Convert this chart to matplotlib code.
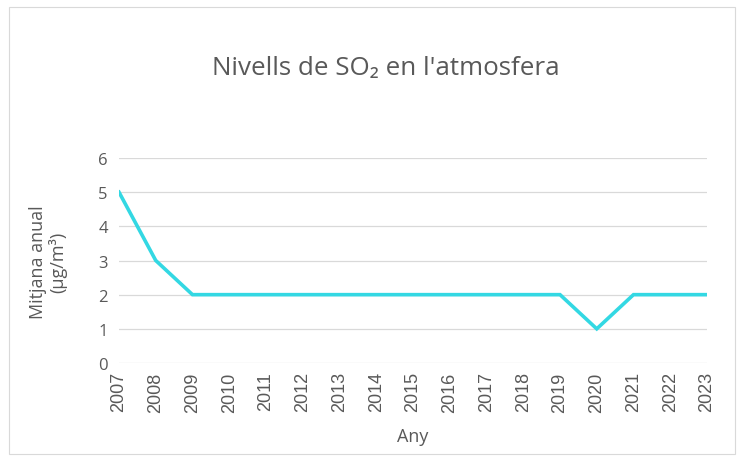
import matplotlib
matplotlib.use("Agg")
import matplotlib.pyplot as plt
from matplotlib.patches import Rectangle

years = list(range(2007, 2024))
so2 = [5, 3, 2, 2, 2, 2, 2, 2, 2, 2, 2, 2, 2, 1, 2, 2, 2]

grey = "#595959"
fig = plt.figure(figsize=(7.44, 4.60), dpi=100)
ax = fig.add_axes([119 / 744, 1 - 364 / 460, (707 - 119) / 744, (364 - 159) / 460])

ax.plot(years, so2, color="#33D8E3", lw=2.6, solid_joinstyle="miter", zorder=3)

ax.set_xlim(2007, 2023)
ax.set_ylim(0, 6)
ax.set_xticks(years)
ax.set_xticklabels([str(y) for y in years], rotation=90, fontsize=13,
                   family="Liberation Sans", color=grey)
ax.set_yticks(range(0, 7))
ax.set_yticklabels([str(v) for v in range(0, 7)], fontsize=12, family="Open Sans", color=grey)
ax.tick_params(length=0, pad=8)
ax.tick_params(axis="x", pad=6)
ax.grid(axis="y", color="#D9D9D9", lw=0.9)
ax.set_axisbelow(True)
for s in ax.spines.values():
    s.set_visible(False)

fig.text(386 / 744, 1 - 68 / 460, "Nivells de SO\u2082 en l'atmosfera", ha="center", va="center",
         fontsize=18.7, family="Open Sans", color=grey)
fig.text(48 / 744, 1 - 262 / 460, "Mitjana anual\n(\u00b5g/m\u00b3)", ha="center", va="center",
         rotation=90, fontsize=13, family="Open Sans", color=grey, linespacing=1.1)
fig.text(413 / 744, 1 - 437 / 460, "Any", ha="center", va="center",
         fontsize=13, family="Open Sans", color=grey)

fig.patches.append(Rectangle((9 / 744, 1 - 455 / 460), 726 / 744, 447 / 460, transform=fig.transFigure,
                             fill=False, edgecolor="#D9D9D9", lw=0.8))

fig.savefig("out.png", dpi=100)
